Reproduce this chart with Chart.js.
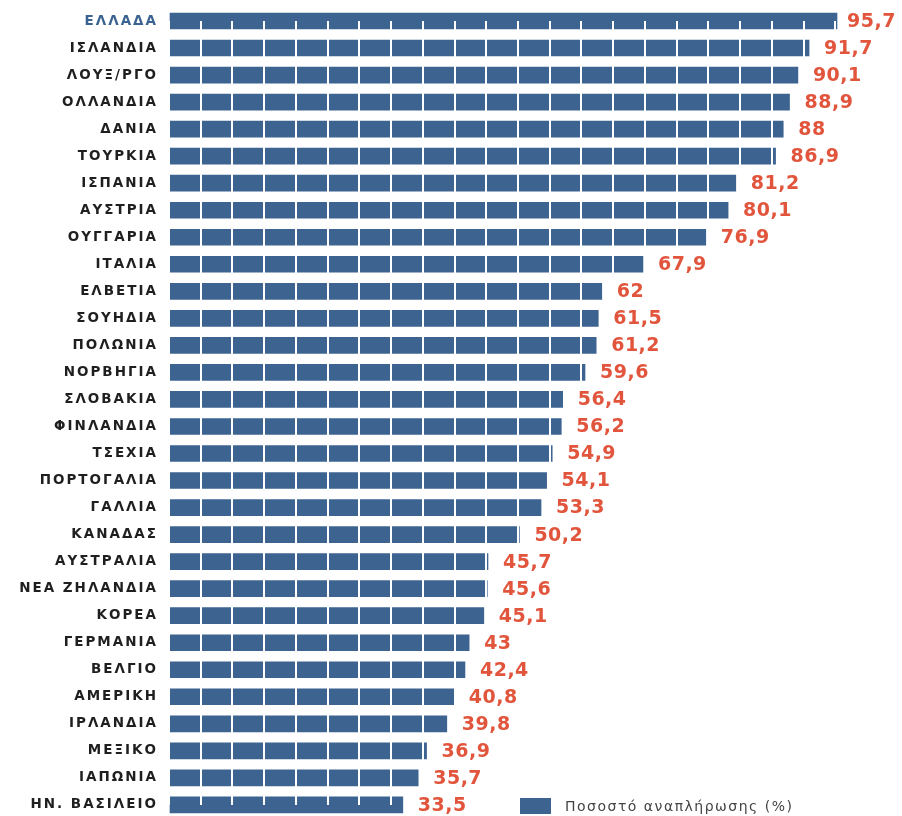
<!DOCTYPE html>
<html>
<head>
<meta charset="utf-8">
<script src="https://cdn.jsdelivr.net/npm/chart.js@4.4.1/dist/chart.umd.min.js"></script>
<style>
html, body { margin: 0; padding: 0; background: #fff; }
#wrap { position: relative; width: 902px; height: 816px; }
#legend { position: absolute; left: 520px; top: 798px; height: 16px; display: flex; align-items: center;
  font: 14px "DejaVu Sans", sans-serif; letter-spacing: 1.5px; color: #444; white-space: nowrap; }
#legend .box { display: inline-block; width: 31px; height: 16px; background: #3d6390; margin-right: 14px; }
</style>
</head>
<body>
<div id="wrap">
  <canvas id="chart1"></canvas>
  <div id="legend"><span class="box"></span><span id="legendText"></span></div>
</div>
<script>
var countries = ['ΕΛΛΑΔΑ', 'ΙΣΛΑΝΔΙΑ', 'ΛΟΥΞ/ΡΓΟ', 'ΟΛΛΑΝΔΙΑ', 'ΔΑΝΙΑ', 'ΤΟΥΡΚΙΑ', 'ΙΣΠΑΝΙΑ', 'ΑΥΣΤΡΙΑ',
  'ΟΥΓΓΑΡΙΑ', 'ΙΤΑΛΙΑ', 'ΕΛΒΕΤΙΑ', 'ΣΟΥΗΔΙΑ', 'ΠΟΛΩΝΙΑ', 'ΝΟΡΒΗΓΙΑ', 'ΣΛΟΒΑΚΙΑ', 'ΦΙΝΛΑΝΔΙΑ',
  'ΤΣΕΧΙΑ', 'ΠΟΡΤΟΓΑΛΙΑ', 'ΓΑΛΛΙΑ', 'ΚΑΝΑΔΑΣ', 'ΑΥΣΤΡΑΛΙΑ', 'ΝΕΑ ΖΗΛΑΝΔΙΑ', 'ΚΟΡΕΑ', 'ΓΕΡΜΑΝΙΑ',
  'ΒΕΛΓΙΟ', 'ΑΜΕΡΙΚΗ', 'ΙΡΛΑΝΔΙΑ', 'ΜΕΞΙΚΟ', 'ΙΑΠΩΝΙΑ', 'ΗΝ. ΒΑΣΙΛΕΙΟ'];
var values = [95.7, 91.7, 90.1, 88.9, 88, 86.9, 81.2, 80.1,
  76.9, 67.9, 62, 61.5, 61.2, 59.6, 56.4, 56.2,
  54.9, 54.1, 53.3, 50.2, 45.7, 45.6, 45.1, 43,
  42.4, 40.8, 39.8, 36.9, 35.7, 33.5];
var seriesName = 'Ποσοστό αναπλήρωσης (%)';
var segmentCount = 22; // white separators cut the bars into blocks

var barColor = '#3d6390';
var valueColor = '#e2553d';

document.getElementById('legendText').textContent = seriesName;

// wider label spacing, like the original typeface
var spacing = {
  id: 'spacing',
  beforeDraw: function(chart) { chart.ctx.letterSpacing = '2px'; },
  afterDraw: function(chart) { chart.ctx.letterSpacing = '0px'; }
};

// values at the end of each bar, greek decimal comma (drawn after the white separators)
var valueLabels = {
  id: 'valueLabels',
  afterDraw: function(chart) {
    var ctx = chart.ctx;
    var meta = chart.getDatasetMeta(0);
    ctx.save();
    ctx.letterSpacing = '0.5px';
    ctx.font = 'bold 19px "DejaVu Sans"';
    ctx.fillStyle = valueColor;
    ctx.textBaseline = 'middle';
    ctx.textAlign = 'left';
    meta.data.forEach(function(bar, i) {
      var txt = String(values[i]).replace('.', ',');
      ctx.fillText(txt, bar.x + (i === 0 ? 10 : 15), bar.y + 1);
    });
    ctx.restore();
  }
};

var ctx = document.getElementById('chart1').getContext('2d');
var myChart = new Chart(ctx, {
  type: 'bar',
  data: {
    labels: countries,
    datasets: [{
      label: seriesName,
      data: values,
      backgroundColor: barColor,
      borderWidth: 0,
      barThickness: 16,
      clip: false
    }]
  },
  options: {
    indexAxis: 'y',
    responsive: true,
    maintainAspectRatio: false,
    animation: false,
    layout: {
      padding: { left: 0, right: 35, top: 21, bottom: 10 }
    },
    plugins: {
      legend: { display: false },
      tooltip: { enabled: false }
    },
    scales: {
      x: {
        min: 0,
        max: 100,
        grid: {
          color: '#ffffff',
          lineWidth: 2,
          z: 1,
          drawTicks: false
        },
        border: { display: false },
        ticks: { display: false, stepSize: 100 / segmentCount },
        afterFit: function(scale) { scale.height = 0; }
      },
      y: {
        offset: false,
        grid: { display: false },
        border: { display: false },
        ticks: {
          autoSkip: false,
          padding: 3,
          color: function(c) { return c.index === 0 ? '#3a6391' : '#1f1f1f'; },
          font: { family: 'DejaVu Sans', size: 13.5, weight: 'bold' }
        },
        afterFit: function(scale) { scale.width = 169; }
      }
    }
  },
  plugins: [spacing, valueLabels]
});
</script>
</body>
</html>
